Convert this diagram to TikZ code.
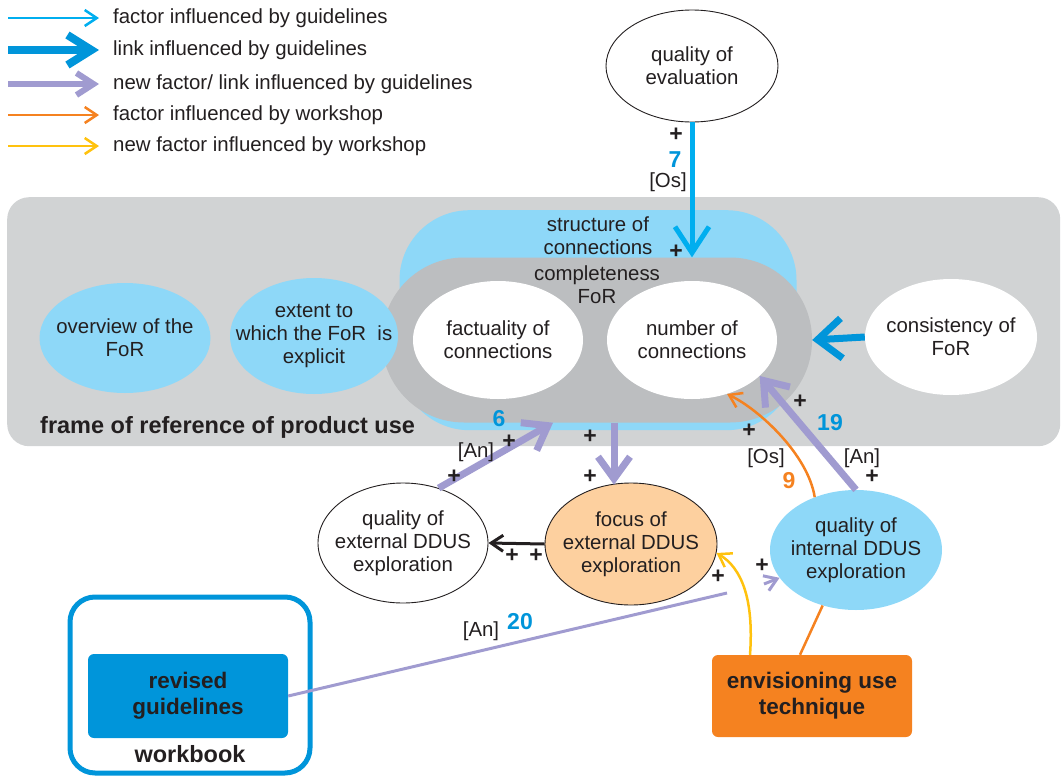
\documentclass[tikz,border=0pt]{standalone}
\usepackage{fontspec}
\setmainfont{Liberation Sans}
\usetikzlibrary{arrows.meta,shapes.geometric}

\definecolor{ink}{HTML}{231F20}
\definecolor{frameGray}{HTML}{D1D3D4}
\definecolor{coreGray}{HTML}{BCBEC0}
\definecolor{skyFill}{HTML}{8ED8F8}
\definecolor{cyanLine}{HTML}{00AEEF}
\definecolor{linkBlue}{HTML}{0095DA}
\definecolor{lav}{HTML}{A09BD0}
\definecolor{orng}{HTML}{F58220}
\definecolor{yel}{HTML}{FFC20E}
\definecolor{peach}{HTML}{FDD09F}

\begin{document}
\begin{tikzpicture}[x=1pt,y=-1pt,
  txt/.style={font=\fontsize{20.4}{23}\selectfont, text=ink, align=center},
  % the ellipse keeps its given size; its text sits in a centred label
  oval/.style={ellipse, inner sep=0pt, label={[txt, inner sep=0pt]center:#1}},
  skyoval/.style={oval=#1, fill=skyFill},
  whiteoval/.style={oval=#1, fill=white},
  lineoval/.style={oval=#1, draw=ink, line width=0.9pt},
  plus/.style={font=\bfseries\fontsize{23}{23}\selectfont, text=ink, inner sep=0pt},
  num/.style={font=\bfseries\fontsize{23}{23}\selectfont, text=linkBlue, inner sep=0pt},
  tag/.style={font=\fontsize{20.4}{20}\selectfont, text=ink, inner sep=0pt},
  boldtxt/.style={font=\bfseries\fontsize{23.5}{25}\selectfont, text=ink, align=center},
  keytxt/.style={font=\fontsize{20.4}{20}\selectfont, text=ink, anchor=west, inner sep=0pt},
  thinhead/.style={-{Straight Barb[length=12pt,width=16pt]}},
  bighead/.style={-{Straight Barb[length=22pt,width=32pt]}},
  lavarrow/.style={draw=lav, line width=7pt, bighead},
]
\useasboundingbox (0,0) rectangle (1061,782);

% ---------- legend ----------
\coordinate (k1a) at (8,18);   \coordinate (k1b) at (99,18);
\coordinate (k2a) at (8,50);   \coordinate (k2b) at (99,50);
\coordinate (k3a) at (8,84);   \coordinate (k3b) at (99,84);
\coordinate (k4a) at (8,115);  \coordinate (k4b) at (99,115);
\coordinate (k5a) at (8,146);  \coordinate (k5b) at (99,146);
\draw[cyanLine, line width=2.5pt, -{Straight Barb[length=12pt,width=16pt]}] (k1a) -- (k1b);
\draw[linkBlue, line width=8pt, -{Straight Barb[length=24pt,width=30pt]}] (k2a) -- (k2b);
\draw[lav, line width=6pt, -{Straight Barb[length=17pt,width=22pt]}] (k3a) -- (k3b);
\draw[orng, line width=2.5pt, -{Straight Barb[length=12pt,width=16pt]}] (k4a) -- (k4b);
\draw[yel, line width=2.5pt, -{Straight Barb[length=12pt,width=16pt]}] (k5a) -- (k5b);
\node[keytxt] (k1t) at (113,18) {factor influenced by guidelines};
\node[keytxt] (k2t) at (113,50) {link influenced by guidelines};
\node[keytxt] (k3t) at (113,84) {new factor/ link influenced by guidelines};
\node[keytxt] (k4t) at (113,115) {factor influenced by workshop};
\node[keytxt] (k5t) at (113,146) {new factor influenced by workshop};

% ---------- frame of reference ----------
\node[fill=frameGray, rounded corners=22, minimum width=1053, minimum height=249,
      inner sep=0pt, anchor=north west] (frm) at (7,197) {};
\node[boldtxt, anchor=west, inner sep=0pt] (frmlbl) at (40,427) {frame of reference of product use};

\node[fill=skyFill, rounded corners=70, minimum width=397, minimum height=220,
      inner sep=0pt, anchor=north] (soc) at (598,210) {};
\node[txt, inner sep=0pt] (soclbl) at (598,236) {structure of\\connections};

\node[fill=coreGray, rounded corners=82, minimum width=430, minimum height=165,
      inner sep=0pt] (cfor) at (597,340) {};
\node[txt, inner sep=0pt] (cforlbl) at (597,285) {completeness\\FoR};

\node[skyoval={overview of the\\FoR}, minimum width=171, minimum height=110] (ov) at (125,338) {};
\node[skyoval={extent to\\which the FoR\ \ is\\explicit}, minimum width=168, minimum height=116] (ext) at (314,336) {};
\node[whiteoval={factuality of\\connections}, minimum width=170, minimum height=118] (fac) at (498,340) {};
\node[whiteoval={number of\\connections}, minimum width=170, minimum height=118] (nc) at (692,340) {};
\node[whiteoval={consistency of\\FoR}, minimum width=172, minimum height=116] (cons) at (951,337) {};

% ---------- outer factors ----------
\node[lineoval={quality of\\evaluation}, fill=white, minimum width=172, minimum height=112] (qeval) at (692,66) {};
\node[lineoval={quality of\\external DDUS\\exploration}, fill=white, minimum width=170, minimum height=120] (qx) at (403,543) {};
\node[lineoval={focus of\\external DDUS\\exploration}, fill=peach, minimum width=172, minimum height=122] (fx) at (631,544) {};
\node[skyoval={quality of\\internal DDUS\\exploration}, minimum width=172, minimum height=120] (qi) at (856,550) {};

\node[fill=orng, rounded corners=6, minimum width=200, minimum height=82, inner sep=0pt,
      font=\bfseries\fontsize{22.5}{26}\selectfont, text=ink, align=center] (ev) at (812,696) {envisioning use\\technique};

\node[draw=linkBlue, line width=5pt, rounded corners=25, minimum width=240, minimum height=176,
      inner sep=0pt] (wb) at (190,685) {};
\node[fill=linkBlue, rounded corners=6, minimum width=200, minimum height=84, inner sep=0pt,
      font=\bfseries\fontsize{22.5}{26}\selectfont, text=ink, align=center] (rg) at (188,696) {revised\\guidelines};
\node[boldtxt, inner sep=0pt] (wblbl) at (190,754) {workbook};

% ---------- connectors ----------
\draw[cyanLine, line width=5pt, -{Straight Barb[length=26pt,width=34pt]}]
  (qeval.south) -- (qeval.south |- cfor.north);
\draw[linkBlue, line width=7pt, -{Straight Barb[length=24pt,width=40pt]}]
  (cons.west) -- (cfor.east);

\draw[lavarrow] (qx.57) -- ([xshift=-44pt]cfor.south);
\draw[lavarrow] ([xshift=17pt]cfor.south) -- ([xshift=17pt,yshift=-62pt]cfor.south);
\draw[lavarrow] (qi.north) -- (nc.-28);

\draw[orng, line width=2.5pt, thinhead] (qi.128) .. controls (808,455) and (760,410) .. (nc.-57);

\draw[ink, line width=3pt, thinhead] (fx.west) -- (qx.east);

\draw[yel, line width=2.5pt, thinhead] ([xshift=-62pt]ev.north) .. controls (754,600) and (742,568) .. (fx.-6);
\draw[orng, line width=2.5pt] ([xshift=-12pt]ev.north) -- (qi.-121);

\coordinate (jmpA) at (727,593);
\coordinate (jmpB) at (764,584);
\draw[lav, line width=3pt] (rg.east) -- (jmpA);
\draw[lav, line width=3pt, thinhead] (jmpB) -- (qi.-160);

% ---------- labels on connectors ----------
\node[plus] (p7a) at (676,135) {+};
\node[num]  (n7)  at (675,160) {7};
\node[tag]  (t7)  at (668,182) {[Os]};
\node[plus] (p7b) at (676,252) {+};

\node[num]  (n6)  at (499,419) {6};
\node[plus] (p6a) at (509,442) {+};
\node[tag]  (t6)  at (476,452) {[An]};
\node[plus] (p6b) at (454,477) {+};

\node[plus] (pfa) at (590,437) {+};
\node[plus] (pfb) at (590,477) {+};

\node[plus] (p9a) at (749,431) {+};
\node[tag]  (t9)  at (766,458) {[Os]};
\node[num, text=orng] (n9) at (789,481) {9};

\node[plus] (p19a) at (800,402) {+};
\node[num]  (n19)  at (830,423) {19};
\node[tag]  (t19)  at (862,458) {[An]};
\node[plus] (p19b) at (872,477) {+};

\node[plus] (pba) at (512,556) {+};
\node[plus] (pbb) at (536,556) {+};

\node[plus] (pya) at (718,577) {+};
\node[plus] (pla) at (762,566) {+};

\node[tag]  (t20) at (481,631) {[An]};
\node[num]  (n20) at (520,622) {20};

\end{tikzpicture}
\end{document}
